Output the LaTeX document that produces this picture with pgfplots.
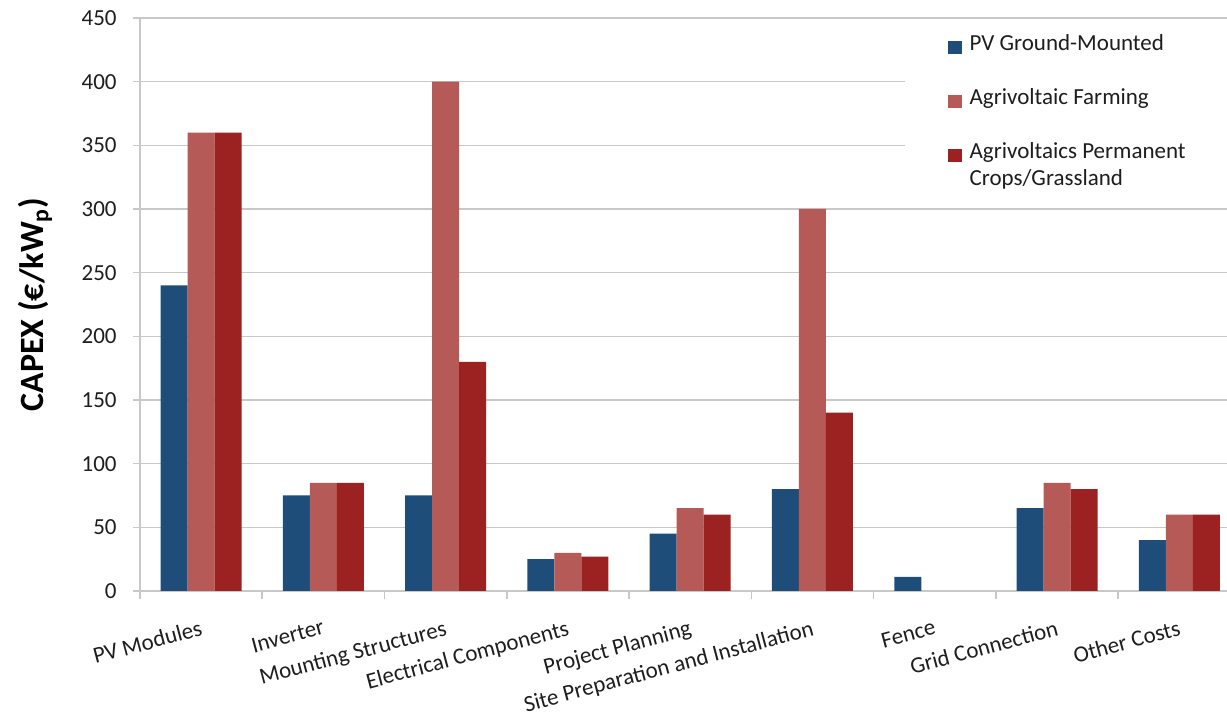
\documentclass[border=0pt]{standalone}
\usepackage{pgfplots}
\pgfplotsset{compat=1.18}
\usepackage{fontspec}
\setmainfont{Carlito}
\definecolor{cblue}{RGB}{31,77,122}
\definecolor{clight}{RGB}{182,90,88}
\definecolor{cdark}{RGB}{156,33,33}
\definecolor{cgrid}{RGB}{200,200,200}
\definecolor{ctext}{RGB}{30,30,30}
\begin{document}
\begin{tikzpicture}
\pgfplotsset{sq/.style={legend image code/.code={\fill[##1,draw=none] (0pt,-3.3pt) rectangle (6.6pt,3.3pt);}}}
\begin{axis}[
  scale only axis, width=543.5pt, height=286.5pt,
  at={(0,0)}, anchor=south west,
  ymin=0, ymax=450, ytick={0,50,...,450},
  xmin=-0.5, xmax=8.39,
  axis x line*=bottom, axis y line*=left,
  axis line style={cgrid, line width=0.8pt},
  ymajorgrids, grid style={cgrid, line width=0.8pt},
  tick align=outside,
  major tick length=3.5pt, minor tick length=4pt,
  tick style={cgrid, line width=0.8pt},
  major x tick style={draw=none},
  xtick={0,...,8},
  minor xtick={-0.5,0.5,...,8.5},
  xticklabels={PV Modules, Inverter, Mounting Structures, Electrical Components, Project Planning, Site Preparation and Installation, Fence, Grid Connection, Other Costs},
  ticklabel style={font=\fontsize{11.5}{13.8}\selectfont, text=ctext},
  /pgf/number format/assume math mode=true,
  xticklabel style={rotate=15, anchor=north east, inner sep=0pt, yshift=-10pt, xshift=-3.5pt},
  yticklabel style={anchor=east, inner sep=0pt, xshift=-8pt},
  ybar=0pt, bar width=13.5pt,
  ylabel={\bfseries CAPEX (€/kW\textsubscript{p})},
  every axis y label/.style={at={(axis description cs:-0.0966,0.5)}, rotate=90, anchor=center, font=\fontsize{17}{20}\selectfont, text=black},
  legend style={at={(axis description cs:0.7038,0.988)}, anchor=north west, draw=none, fill=white,
    inner xsep=21.5pt, inner ysep=4.25pt, row sep=0pt, /tikz/column sep=4pt,
    font=\fontsize{11.5}{13.8}\selectfont, text=ctext,
    nodes={inner sep=0pt, text height=8.6pt, text depth=4.9pt}},
  legend cell align=left,
]
\addplot[fill=cblue, draw=none, sq] coordinates {(0,240) (1,75) (2,75) (3,25) (4,45) (5,80) (6,11) (7,65) (8,40)};
\addlegendentry{PV Ground-Mounted}
\addlegendimage{empty legend}\addlegendentry{}
\addplot[fill=clight, draw=none, sq] coordinates {(0,360) (1,85) (2,400) (3,30) (4,65) (5,300) (7,85) (8,60)};
\addlegendentry{Agrivoltaic Farming}
\addlegendimage{empty legend}\addlegendentry{}
\addplot[fill=cdark, draw=none, sq] coordinates {(0,360) (1,85) (2,180) (3,27) (4,60) (5,140) (7,80) (8,60)};
\addlegendentry{Agrivoltaics Permanent}
\addlegendimage{empty legend}\addlegendentry{Crops/Grassland}
\end{axis}
\pgfresetboundingbox
\path[use as bounding box] (-70pt,-65pt) rectangle (543.5pt,295.5pt);
\end{tikzpicture}
\end{document}
